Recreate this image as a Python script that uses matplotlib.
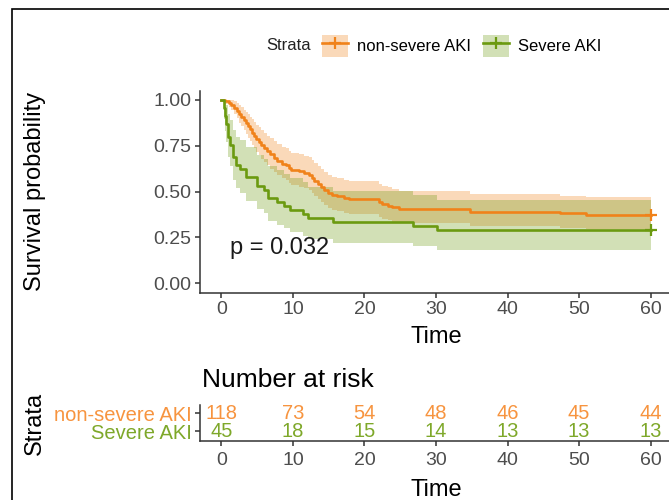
import matplotlib
matplotlib.use("Agg")
import matplotlib.pyplot as plt
from matplotlib.patches import Patch, Rectangle
from matplotlib.lines import Line2D
import numpy as np

plt.rcParams['font.family'] = ['Liberation Sans', 'DejaVu Sans']

# ---------------- data ----------------
strata = ["non-severe AKI", "Severe AKI"]
colors = ["#F0821A", "#6B9A10"]
risk_colors = ["#F7943F", "#7EA82A"]

# non-severe AKI (n=118)
t_ns = [0.0, 0.5, 1.0, 1.4, 1.8, 2.2, 2.5, 2.8, 3.1, 3.4, 3.7, 4.0, 4.3, 4.6, 4.9,
        5.2, 5.5, 5.9, 6.3, 6.8, 7.3, 7.8, 8.4, 9.0, 9.5, 9.7, 10.8, 11.6, 12.2,
        12.6, 13.0, 13.5, 13.9, 14.4, 14.9, 15.5, 16.2, 17.2, 17.9, 22.0, 22.5,
        23.3, 23.8, 24.8, 34.7, 47.3, 51.0, 60.0]
s_ns = [1.000, 0.992, 0.983, 0.975, 0.958, 0.941, 0.924, 0.907, 0.890, 0.873, 0.856,
        0.839, 0.822, 0.805, 0.788, 0.771, 0.754, 0.737, 0.720, 0.703, 0.686, 0.669,
        0.653, 0.644, 0.627, 0.619, 0.610, 0.602, 0.593, 0.576, 0.559, 0.542, 0.525,
        0.508, 0.492, 0.483, 0.475, 0.466, 0.458, 0.441, 0.432, 0.424, 0.415, 0.407,
        0.390, 0.381, 0.373, 0.373]
up_ns = [1.000, 1.000, 1.000, 1.000, 0.995, 0.985, 0.973, 0.961, 0.948, 0.935, 0.922,
         0.908, 0.894, 0.880, 0.865, 0.851, 0.836, 0.821, 0.806, 0.790, 0.775, 0.759,
         0.745, 0.736, 0.721, 0.713, 0.705, 0.697, 0.689, 0.672, 0.656, 0.640, 0.623,
         0.607, 0.591, 0.582, 0.574, 0.565, 0.557, 0.540, 0.531, 0.523, 0.514, 0.506,
         0.489, 0.479, 0.471, 0.471]
lo_ns = [1.000, 0.976, 0.960, 0.947, 0.922, 0.899, 0.877, 0.856, 0.835, 0.815, 0.795,
         0.775, 0.756, 0.737, 0.718, 0.699, 0.680, 0.662, 0.643, 0.625, 0.607, 0.589,
         0.572, 0.563, 0.546, 0.537, 0.528, 0.520, 0.511, 0.493, 0.476, 0.459, 0.442,
         0.425, 0.410, 0.401, 0.393, 0.384, 0.376, 0.360, 0.351, 0.344, 0.335, 0.327,
         0.311, 0.303, 0.295, 0.295]

# Severe AKI (n=45)
t_sv = [0.0, 0.3, 0.5, 0.7, 0.9, 1.2, 1.6, 2.0, 2.6, 3.5, 5.0, 6.0, 6.5, 7.7, 8.8,
        9.6, 11.4, 12.1, 15.6, 26.8, 30.1, 60.0]
s_sv = [1.000, 0.956, 0.911, 0.867, 0.800, 0.756, 0.689, 0.644, 0.622, 0.578, 0.533,
        0.511, 0.467, 0.444, 0.422, 0.400, 0.378, 0.356, 0.333, 0.311, 0.289, 0.289]
up_sv = [1.000, 1.000, 0.998, 0.972, 0.926, 0.893, 0.838, 0.800, 0.781, 0.742, 0.701,
         0.680, 0.638, 0.616, 0.594, 0.572, 0.550, 0.528, 0.503, 0.480, 0.457, 0.457]
lo_sv = [1.000, 0.898, 0.832, 0.773, 0.691, 0.640, 0.566, 0.518, 0.495, 0.450, 0.406,
         0.384, 0.342, 0.320, 0.300, 0.280, 0.260, 0.240, 0.220, 0.201, 0.183, 0.183]

risk_times = [0, 10, 20, 30, 40, 50, 60]
risk_ns = [118, 73, 54, 48, 46, 45, 44]
risk_sv = [45, 18, 15, 14, 13, 13, 13]

xticks = [0, 10, 20, 30, 40, 50, 60]
yticks = [0.00, 0.25, 0.50, 0.75, 1.00]
pval_text = "p = 0.032"

# ---------------- figure ----------------
W, H = 669, 500
fig = plt.figure(figsize=(W / 100, H / 100), dpi=100)

def fx(px):
    return px / W

def fy(py):
    return 1 - py / H

spine_c = "#333333"
tick_c = "#4D4D4D"

# main axes
ax_w = fx(672) - fx(200)
ax = fig.add_axes([fx(200), fy(292.5), ax_w, fy(90.8) - fy(292.5)])
series = [(t_ns, s_ns, up_ns, lo_ns), (t_sv, s_sv, up_sv, lo_sv)]
for (t, s, u, l), c in zip(series, colors):
    ax.fill_between(t, l, u, step="post", color=c, alpha=0.3, linewidth=0)
for (t, s, u, l), c in zip(series, colors):
    ax.step(t, s, where="post", color=c, lw=1.9)
    ax.plot([t[-1]], [s[-1]], marker="+", color=c, ms=9, mew=1.6)

ax.set_xlim(-3, 63)
ax.set_ylim(-0.05, 1.05)
ax.set_xticks(xticks)
ax.set_yticks(yticks)
ax.set_yticklabels([f"{v:.2f}" for v in yticks])
for sp in ["top", "right"]:
    ax.spines[sp].set_visible(False)
for sp in ["left", "bottom"]:
    ax.spines[sp].set_color(spine_c)
    ax.spines[sp].set_linewidth(1.1)
ax.tick_params(axis="both", length=3.5, width=1.1, color=spine_c,
               labelsize=14, labelcolor=tick_c, pad=2.5)
ax.set_xlabel("Time", fontsize=17, labelpad=6)
ax.set_ylabel("Survival probability", fontsize=17)
ax.yaxis.set_label_coords((46 - 200) / (672 - 200), 0.5)
ax.text(1.2, 0.193, pval_text, fontsize=17, ha="left", va="center", color="#1a1a1a")

# legend
fig.text(fx(266.7), fy(46), "Strata", fontsize=12, ha="left", va="center", color="#222222")
handles = []
for c in colors:
    handles.append((Patch(facecolor=c, alpha=0.3, edgecolor="none"),
                    Line2D([], [], color=c, lw=1.9, marker="+", ms=9, mew=1.6)))
fig.legend(handles, strata, loc="center left", bbox_to_anchor=(fx(321.7), fy(46)),
           ncol=2, frameon=False, fontsize=12, handlelength=1.56, handleheight=1.7,
           handletextpad=0.55, columnspacing=0.7, borderpad=0, borderaxespad=0)

# risk table
axr = fig.add_axes([fx(200), fy(441), ax_w, fy(405) - fy(441)])
axr.set_xlim(-3, 63)
axr.set_ylim(0.435, 2.47)
for tt, n1, n2 in zip(risk_times, risk_ns, risk_sv):
    axr.text(tt, 2, str(n1), color=risk_colors[0], fontsize=14.5, ha="center", va="center")
    axr.text(tt, 1, str(n2), color=risk_colors[1], fontsize=14.5, ha="center", va="center")
axr.set_xticks(xticks)
axr.set_yticks([2, 1])
axr.set_yticklabels(strata)
for lab, c in zip(axr.get_yticklabels(), risk_colors):
    lab.set_color(c)
for sp in ["top", "right"]:
    axr.spines[sp].set_visible(False)
for sp in ["left", "bottom"]:
    axr.spines[sp].set_color(spine_c)
    axr.spines[sp].set_linewidth(1.1)
axr.tick_params(axis="both", length=3.5, width=1.1, color=spine_c)
axr.tick_params(axis="x", labelsize=14, labelcolor=tick_c, pad=4.5)
axr.tick_params(axis="y", labelsize=14.5, pad=2.5)
axr.set_xlabel("Time", fontsize=17, labelpad=7)
axr.set_ylabel("Strata", fontsize=17, labelpad=6)
fig.text(fx(201.7), fy(380), "Number at risk", fontsize=19, ha="left", va="center")

# outer frame
fig.patches.append(Rectangle((fx(12), -0.2), 1.5, fy(9) + 0.2, transform=fig.transFigure,
                             fill=False, edgecolor="black", lw=1.2))

fig.savefig("out.png", dpi=100)
